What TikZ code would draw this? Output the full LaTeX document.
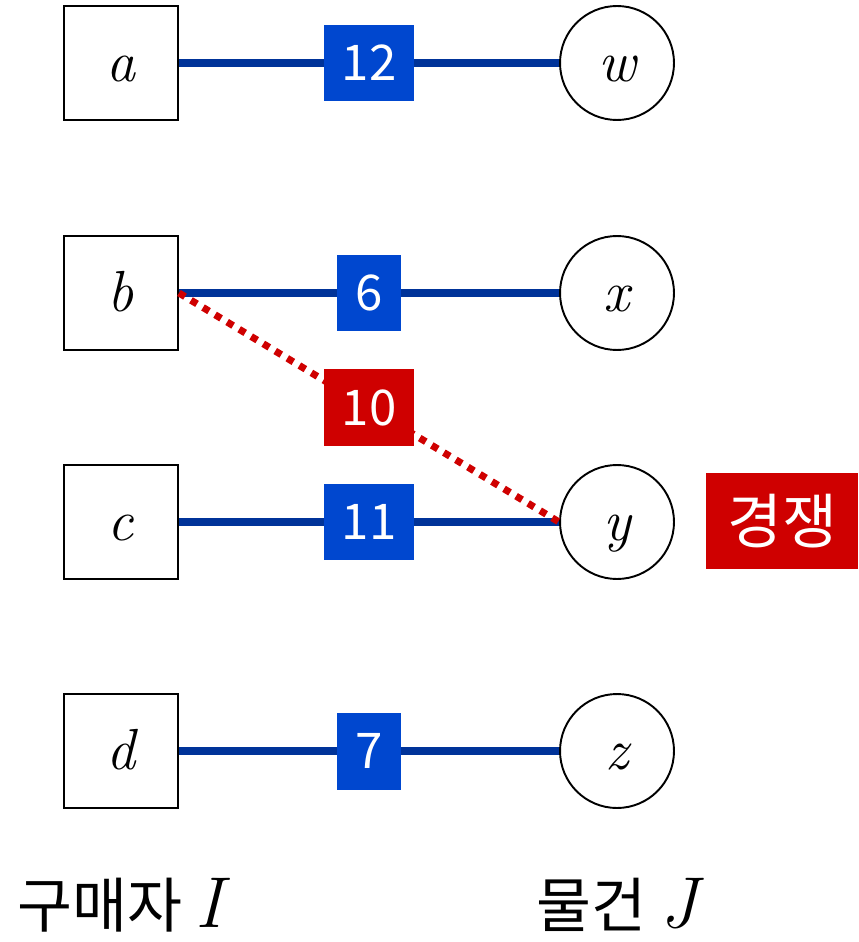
\documentclass[tikz,border=0pt]{standalone}
\usepackage{fontspec}
\newfontfamily\kr{Noto Sans CJK KR}
\usetikzlibrary{positioning}
\definecolor{edgeblue}{HTML}{003399}
\definecolor{boxblue}{HTML}{0047CF}
\definecolor{boxred}{HTML}{CF0000}

\tikzset{
  buyer/.style={draw, line width=1.1pt, minimum size=2.28cm, inner sep=0pt,
    text height=0.74cm, text depth=0pt,
    font=\fontsize{33}{36}\selectfont\itshape},
  item/.style={buyer, circle},
  edge/.style={edgeblue, line width=4pt},
  rival/.style={boxred, line width=4pt, dash pattern=on 4pt off 4pt},
  bid/.style={fill=boxblue, text=white, inner xsep=0.36cm, inner ysep=0pt,
    minimum height=1.54cm, font=\kr\fontsize{28}{30}\selectfont},
  side/.style={font=\kr\fontsize{34}{38}\selectfont},
}
\newcommand{\setname}[1]{{\rmfamily\itshape\fontsize{41}{44}\selectfont #1}}

\begin{document}
\begin{tikzpicture}[x=0.02cm, y=-0.02cm]
    \useasboundingbox (0,0) rectangle (858,942);

    % Buyers on the left, items on the right
    \foreach \b/\i/\y in {a/w/63, b/x/293, c/y/522, d/z/751} {
        \node[buyer] (\b) at (121,\y) {\b};
        \node[item] (\i) at (617,\y) {\i};
    }

    % Bids
    \draw[edge] (a) -- node[bid] {12} (w);
    \draw[edge] (b) -- node[bid] {6} (x);
    \draw[edge] (c) -- node[bid] {11} (y);
    \draw[edge] (d) -- node[bid] {7} (z);

    % Competing bid of b on y
    \draw[rival] (b.east) -- node[bid, fill=boxred] {10} (y.west);
    \node[fill=boxred, text=white, minimum width=3.04cm, minimum height=1.92cm,
      font=\kr\fontsize{34}{38}\selectfont] (comp) at (782,521) {경쟁};

    % Column captions
    \node[side] (buyers) at (120,905) {구매자 \setname{I}};
    \node[side] (items) at (617,905) {물건 \setname{J}};
\end{tikzpicture}
\end{document}
